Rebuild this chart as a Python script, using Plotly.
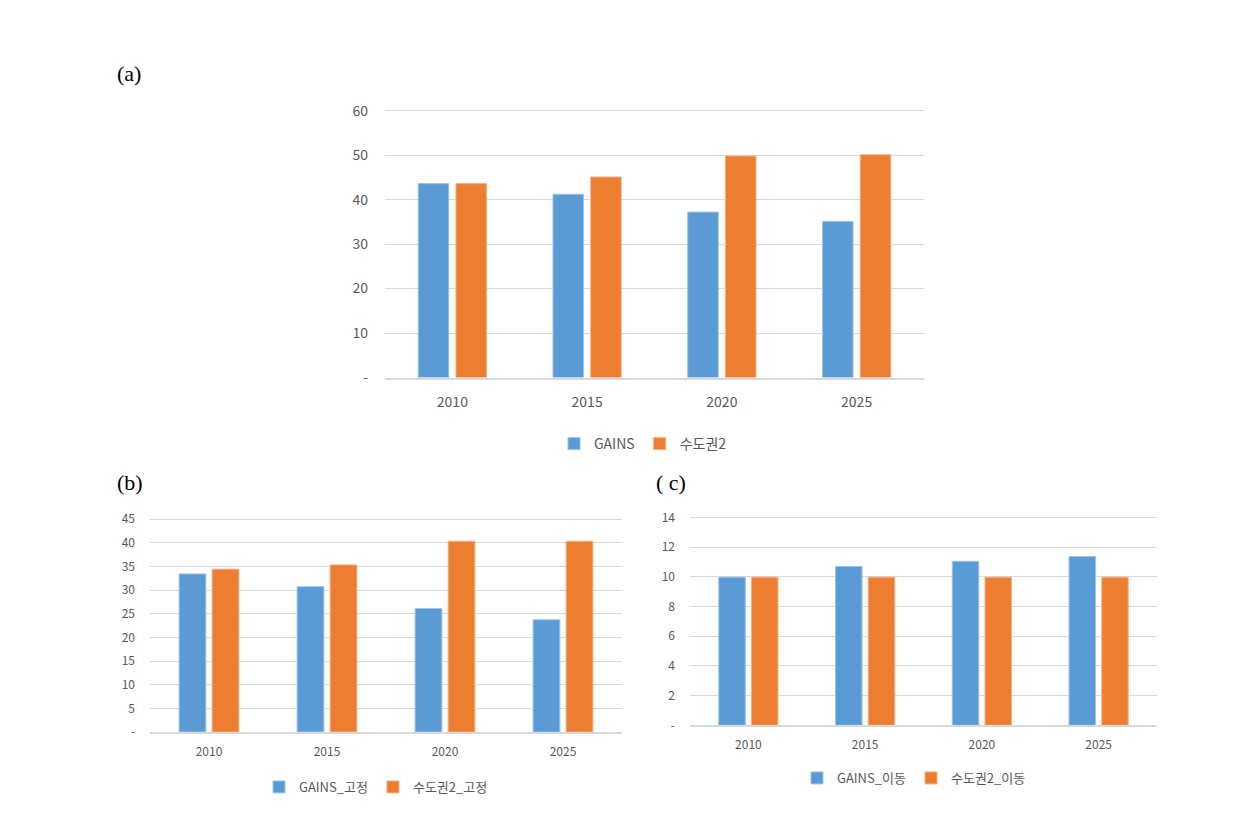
import plotly.graph_objects as go

years = ["2010", "2015", "2020", "2025"]

# (a) total
a_gains = [43.6, 41.2, 37.2, 35.1]
a_sudo = [43.6, 45.1, 49.8, 50.1]
a_ticks = [0, 10, 20, 30, 40, 50, 60]
a_ticktext = ["-", "10", "20", "30", "40", "50", "60"]

# (b) stationary
b_gains = [33.4, 30.7, 26.1, 23.7]
b_sudo = [34.4, 35.3, 40.3, 40.3]
b_ticks = [0, 5, 10, 15, 20, 25, 30, 35, 40, 45]
b_ticktext = ["-", "5", "10", "15", "20", "25", "30", "35", "40", "45"]

# (c) mobile
c_gains = [9.97, 10.69, 11.04, 11.36]
c_sudo = [9.97, 9.97, 9.97, 9.97]
c_ticks = [0, 2, 4, 6, 8, 10, 12, 14]
c_ticktext = ["-", "2", "4", "6", "8", "10", "12", "14"]

names = {
    "a": ("GAINS", "수도권2"),
    "b": ("GAINS_고정", "수도권2_고정"),
    "c": ("GAINS_이동", "수도권2_이동"),
}

BLUE = "#5B9BD5"
ORANGE = "#ED7D31"
BLUE_EDGE = "#9DC3E6"
ORANGE_EDGE = "#F4B183"
TXT = "#595959"
GRID = "#D9D9D9"
FONT = "Noto Sans CJK KR, Noto Sans, sans-serif"

W, H = 1254, 818

fig = go.Figure()

panels = [
    ("a", "x", "y", "legend", a_gains, a_sudo),
    ("b", "x2", "y2", "legend2", b_gains, b_sudo),
    ("c", "x3", "y3", "legend3", c_gains, c_sudo),
]
for key, xa, ya, lg, g, s in panels:
    n1, n2 = names[key]
    fig.add_trace(go.Bar(x=years, y=g, name=n1, xaxis=xa, yaxis=ya, legend=lg,
                         marker=dict(color=BLUE, line=dict(color=BLUE_EDGE, width=1))))
    fig.add_trace(go.Bar(x=years, y=s, name=n2, xaxis=xa, yaxis=ya, legend=lg,
                         marker=dict(color=ORANGE, line=dict(color=ORANGE_EDGE, width=1))))


def px_x(p):
    return p / W


def px_y(p):
    return 1 - p / H


def xaxis(dom, size, standoff):
    return dict(domain=[px_x(dom[0]), px_x(dom[1])], type="category",
                showgrid=False, showline=True, linecolor=GRID, linewidth=1.5,
                ticks="", tickfont=dict(family=FONT, size=size, color=TXT),
                ticklabelstandoff=standoff, fixedrange=True, automargin=False)


def yaxis(top_px, bot_px, rmax, tv, tt, size, standoff, anchor):
    # extend range/domain slightly above the top tick so its gridline is not clipped
    ppu = (bot_px - top_px) / rmax
    ext = rmax * 0.02
    top_ext = top_px - ext * ppu
    return dict(domain=[px_y(bot_px), px_y(top_ext)], range=[0, rmax + ext],
                tickvals=tv, ticktext=tt, showgrid=True, gridcolor=GRID, gridwidth=1,
                zeroline=False, showline=False, ticks="",
                tickfont=dict(family=FONT, size=size, color=TXT),
                ticklabelstandoff=standoff, anchor=anchor, fixedrange=True,
                automargin=False)


fig.update_layout(
    template="none",
    width=W, height=H,
    margin=dict(l=0, r=0, t=0, b=0, autoexpand=False),
    paper_bgcolor="white", plot_bgcolor="white",
    barmode="group", bargap=0.44, bargroupgap=0.19,
    font=dict(family=FONT, color=TXT),
    xaxis=dict(xaxis((385, 924), 14, 11), anchor="y"),
    yaxis=yaxis(110.7, 377.5, 60, a_ticks, a_ticktext, 14, 16, "x"),
    xaxis2=dict(xaxis((150, 622), 12, 8), anchor="y2"),
    yaxis2=yaxis(519, 732, 45, b_ticks, b_ticktext, 12, 14, "x2"),
    xaxis3=dict(xaxis((690, 1157), 12, 8), anchor="y3"),
    yaxis3=yaxis(517.3, 725.3, 14, c_ticks, c_ticktext, 12, 14, "x3"),
    legend=dict(orientation="h", x=px_x(643), y=px_y(444), xanchor="center", yanchor="middle",
                font=dict(family=FONT, size=14, color=TXT), itemwidth=30,
                bgcolor="rgba(0,0,0,0)", borderwidth=0),
    legend2=dict(orientation="h", x=px_x(376), y=px_y(787), xanchor="center", yanchor="middle",
                 font=dict(family=FONT, size=13, color=TXT), itemwidth=30,
                 bgcolor="rgba(0,0,0,0)", borderwidth=0),
    legend3=dict(orientation="h", x=px_x(914), y=px_y(778), xanchor="center", yanchor="middle",
                 font=dict(family=FONT, size=13, color=TXT), itemwidth=30,
                 bgcolor="rgba(0,0,0,0)", borderwidth=0),
    showlegend=True,
)

SERIF = "Liberation Serif, DejaVu Serif, serif"
labels = [("(a)", 115, 73), ("(b)", 115, 482), ("( c)", 654, 482)]
for text, lx, ly in labels:
    fig.add_annotation(text=text, xref="paper", yref="paper", x=px_x(lx), y=px_y(ly),
                       xanchor="left", yanchor="middle", showarrow=False,
                       font=dict(family=SERIF, size=22, color="#000000"))

fig.write_html("out.html", config={"displayModeBar": False},
               post_script="document.body.style.margin='0';document.body.style.overflow='hidden';")
